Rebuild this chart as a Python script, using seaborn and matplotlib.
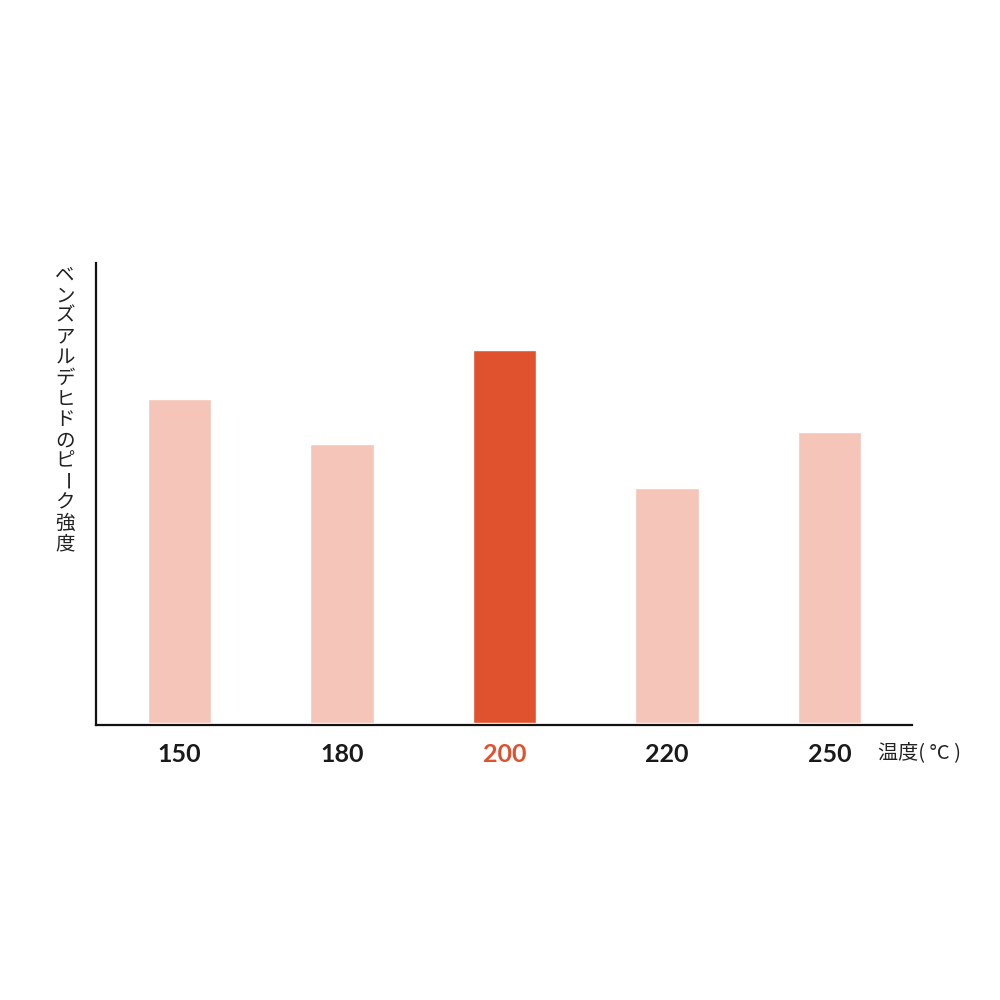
import matplotlib
matplotlib.use('Agg')
import matplotlib.pyplot as plt
import seaborn as sns
import pandas as pd

# 温度ごとのベンズアルデヒドのピーク強度（図から読み取り、任意単位）
temps = ['150', '180', '200', '220', '250']
peak = [324, 279, 373, 235, 291]
highlight = '200'

light = '#F4C5B8'
dark = '#E0522E'
colors = {t: (dark if t == highlight else light) for t in temps}

ylabel_text = 'ベンズアルデヒドのピーク強度'
xlabel_text = '温度( °C )'

sns.set_theme(style='white')
plt.rcParams['font.family'] = ['Noto Sans CJK JP', 'DejaVu Sans']

df = pd.DataFrame({'temp': temps, 'peak': peak})

fig = plt.figure(figsize=(10, 10), dpi=100)
ax = fig.add_axes([0.096, 0.275, 0.816, 0.462])

sns.barplot(data=df, x='temp', y='peak', hue='temp', palette=colors,
            legend=False, width=0.39, saturation=1, ax=ax)

ax.set_xlim(-0.514, 4.508)
ax.set_ylim(-2, 460)

# 軸
for s in ['top', 'right']:
    ax.spines[s].set_visible(False)
for s in ['left', 'bottom']:
    ax.spines[s].set_color('#111111')
    ax.spines[s].set_linewidth(1.6)
ax.set_yticks([])
ax.tick_params(axis='x', length=0, pad=13)
for lab in ax.get_xticklabels():
    lab.set_fontfamily(['Lato', 'DejaVu Sans'])
    lab.set_fontweight('bold')
    lab.set_fontsize(18)
    lab.set_color(dark if lab.get_text() == highlight else '#1a1a1a')
ax.set_xlabel('')
ax.set_ylabel('')

# 縦書きの軸ラベル：1文字ずつ上から並べる（長音符は縦書きなので90°回転）
x0 = 0.065
y_top = 1 - 0.275
step = 0.0207
for i, ch in enumerate(ylabel_text):
    fig.text(x0, y_top - step * i, ch, fontsize=14, color='#222222',
             ha='center', va='center', rotation_mode='anchor',
             rotation=-90 if ch == 'ー' else 0)

ax.text((878 - 96) / 816, -0.060, xlabel_text,
        transform=ax.transAxes, fontsize=14.5, color='#222222',
        ha='left', va='center')

fig.savefig('out.png', dpi=100, facecolor='white')
